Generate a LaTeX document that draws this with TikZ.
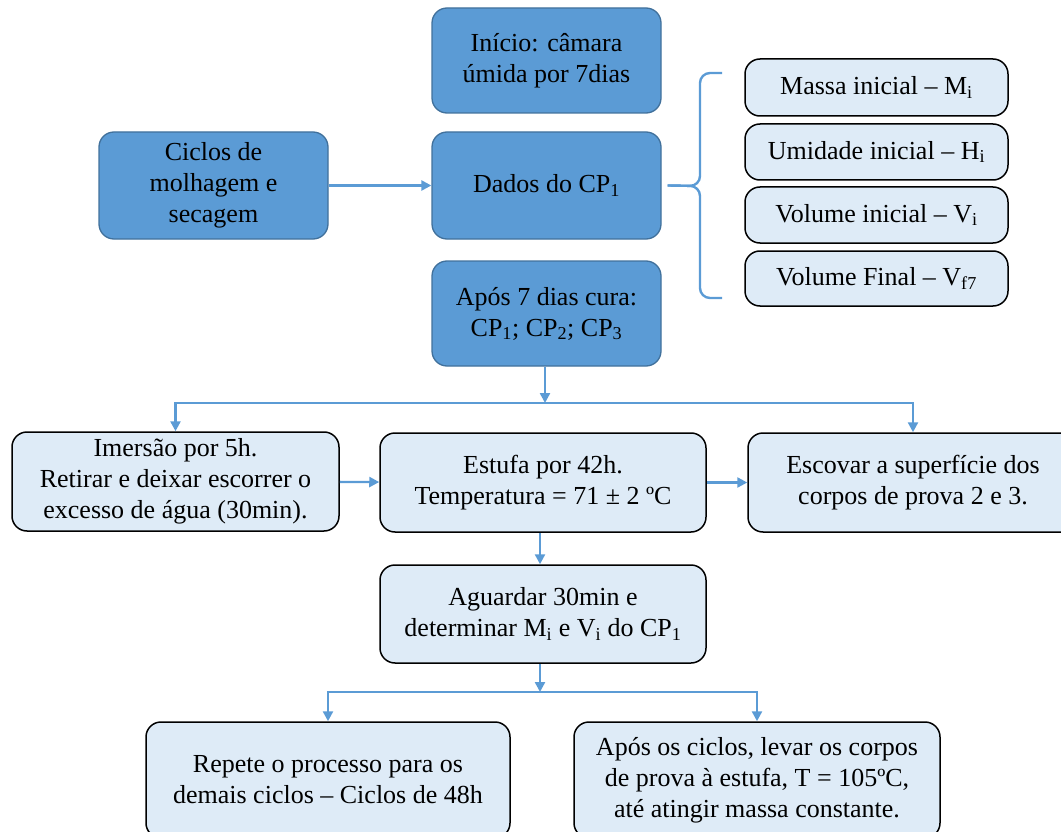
\documentclass[tikz,border=0pt]{standalone}
\usepackage{fontspec}
\setmainfont{Liberation Serif}
\usetikzlibrary{arrows.meta}
\definecolor{boxdark}{HTML}{5B9BD5}
\definecolor{boxline}{HTML}{41719C}
\definecolor{boxlight}{HTML}{DEEBF7}
\definecolor{flowblue}{HTML}{5B9BD5}

\begin{document}
\begin{tikzpicture}[x=1pt,y=-1pt]
  \useasboundingbox (0,0) rectangle (1061,832);
  \clip (0,0) rectangle (1061,832);
  \tikzstyle{every node}=[font=\fontsize{26}{31}\selectfont]
  \tikzstyle{darkbox}=[rectangle,rounded corners=15pt,draw=boxline,fill=boxdark,line width=1.3pt,align=center,inner sep=0pt]
  \tikzstyle{lightbox}=[rectangle,rounded corners=15pt,draw=black,fill=boxlight,line width=1.5pt,align=center,inner sep=0pt]
  \tikzstyle{flow}=[draw=flowblue,line width=2.4pt,-{Triangle[length=10pt,width=10pt]}]

%% upper column
  \node[darkbox,minimum width=229pt,minimum height=105pt] (inicio) at (546.5,60.5)  {Início: câmara\\úmida por 7dias};
  \node[darkbox,minimum width=229pt,minimum height=107pt] (dados)  at (546.5,185.5) {Dados do CP\textsubscript{1}};
  \node[darkbox,minimum width=229pt,minimum height=107pt] (ciclos) at (213.5,185.5) {Ciclos de\\molhagem e\\secagem};
  \node[darkbox,minimum width=229pt,minimum height=105pt] (apos)   at (546.5,313.5) {Após 7 dias cura:\\CP\textsubscript{1}; CP\textsubscript{2}; CP\textsubscript{3}};

%% data of CP1
  \newcommand{\datx}{876.5}
  \node[lightbox,minimum width=263pt,minimum height=57pt] (massa)   at (\datx,87.5)  {Massa inicial -- M\textsubscript{i}};
  \node[lightbox,minimum width=263pt,minimum height=56pt] (umidade) at (\datx,152)   {Umidade inicial -- H\textsubscript{i}};
  \node[lightbox,minimum width=263pt,minimum height=56pt] (volini)  at (\datx,215)   {Volume inicial -- V\textsubscript{i}};
  \node[lightbox,minimum width=263pt,minimum height=55pt] (volfin)  at (\datx,278.5) {Volume Final -- V\textsubscript{f7}};

%% cycle steps
  \node[lightbox,minimum width=327pt,minimum height=99pt]  (imersao)  at (175.5,481.5) {Imersão por 5h.\\Retirar e deixar escorrer o\\excesso de água (30min).};
  \node[lightbox,minimum width=326pt,minimum height=99pt]  (estufa)   at (543,482.5)   {Estufa por 42h.\\Temperatura = 71 ± 2 ºC};
  \node[lightbox,minimum width=330pt,minimum height=99pt]  (escovar)  at (913,482.5)   {Escovar a  superfície dos\\corpos de prova 2 e 3.};
  \node[lightbox,minimum width=326pt,minimum height=98pt]  (aguardar) at (543,614)     {Aguardar 30min e\\determinar M\textsubscript{i} e V\textsubscript{i} do CP\textsubscript{1}};
  \node[lightbox,minimum width=364pt,minimum height=116pt] (repete)   at (328,780)     {Repete o processo para os\\demais ciclos -- Ciclos de 48h};
  \node[lightbox,minimum width=366pt,minimum height=116pt] (fim)      at (757,780)     {Após os ciclos, levar os corpos\\de prova à estufa, T = 105ºC,\\até atingir massa constante.};

%% brace
  \draw[flow,-,rounded corners=10pt] (722,73)  -- (700,73)  -- (700,186) -- ([xshift=6pt] dados.east);
  \draw[flow,-,rounded corners=10pt] (722,298) -- (700,298) -- (700,186) -- ([xshift=6pt] dados.east);

%% connections
  \coordinate (split1) at (545,403);
  \coordinate (split2) at (540,692);
  \draw[flow] (ciclos) -- (dados);
  \draw[flow] ([xshift=-1.5pt] apos.south) -- (split1);
  \draw[flow] (split1) -| (imersao.north);
  \draw[flow] (split1) -| (escovar.north);
  \draw[flow] (imersao) -- (estufa);
  \draw[flow] (estufa) -- (escovar);
  \draw[flow] ([xshift=-3pt] estufa.south) -- ([xshift=-3pt] aguardar.north);
  \draw[flow] ([xshift=-3pt] aguardar.south) -- (split2);
  \draw[flow] (split2) -| (repete.north);
  \draw[flow] (split2) -| (fim.north);
\end{tikzpicture}
\end{document}
